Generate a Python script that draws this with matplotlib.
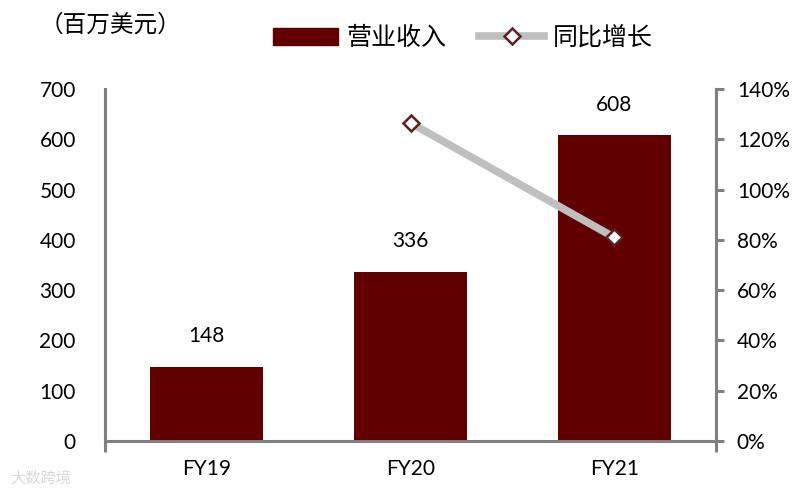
import matplotlib
matplotlib.use("Agg")
import matplotlib.pyplot as plt
from matplotlib.lines import Line2D
from matplotlib.patches import Patch

categories = ["FY19", "FY20", "FY21"]
revenue = [148, 336, 608]
growth = [None, 126.5, 81.0]
left_ticks = [0, 100, 200, 300, 400, 500, 600, 700]
right_ticks = [0, 20, 40, 60, 80, 100, 120, 140]

plt.rcParams['font.family'] = ['Lato', 'Noto Sans CJK SC', 'DejaVu Sans']
cjk = ['Noto Sans CJK SC', 'DejaVu Sans']

BAR = '#600000'
LINE = '#BFBFBF'
MEDGE = '#5C1F1F'
SPINE = '#808080'

fig = plt.figure(figsize=(8.11, 4.95), dpi=100)
ax = fig.add_axes([105/811, 1-441/495, (716-105)/811, (441-89)/495])
x = list(range(len(categories)))
ax.bar(x, revenue, width=0.555, color=BAR, zorder=2)
ax.set_xlim(-0.5, 2.5)
ax.set_ylim(0, 700)
ax.set_yticks(left_ticks)
ax.set_xticks(x)
ax.set_xticklabels(categories)
ax.tick_params(axis='y', length=0, pad=21, labelsize=15)
ax.tick_params(axis='x', length=0, pad=13, labelsize=15)
ax.set_xticks([-0.5, 2.5], minor=True)
ax.tick_params(axis='x', which='minor', length=8, width=2.2, color=SPINE)
for s in ['top', 'right']:
    ax.spines[s].set_visible(False)
for s in ['left', 'bottom']:
    ax.spines[s].set_color(SPINE)
    ax.spines[s].set_linewidth(2.2)

for xi, v in zip(x, revenue):
    ax.annotate(str(v), (xi, v), xytext=(0, 22), textcoords='offset points',
                ha='center', va='center', fontsize=15)

ax2 = ax.twinx()
ax2.set_ylim(0, 140)
ax2.set_yticks(right_ticks)
ax2.set_yticklabels([f"{t}%" for t in right_ticks])
ax2.tick_params(axis='y', length=6, width=2.2, color=SPINE, pad=9, labelsize=15)
for s in ['top', 'left', 'bottom']:
    ax2.spines[s].set_visible(False)
ax2.spines['right'].set_color(SPINE)
ax2.spines['right'].set_linewidth(2.2)

gx = [xi for xi, g in zip(x, growth) if g is not None]
gy = [g for g in growth if g is not None]
ax2.plot(gx, gy, color=LINE, lw=5.5, solid_capstyle='butt', zorder=3)
ax2.plot(gx, gy, ls='none', marker='D', markersize=8.5, markerfacecolor='white',
         markeredgecolor=MEDGE, markeredgewidth=1.8, zorder=4)

handles = [Patch(facecolor=BAR, edgecolor=BAR),
           Line2D([0], [0], color=LINE, lw=5.5, marker='D', markersize=8,
                  markerfacecolor='white', markeredgecolor=MEDGE, markeredgewidth=1.8)]
fig.legend(handles, ['营业收入', '同比增长'], loc='center', bbox_to_anchor=(463/811, 1-38/495),
           ncol=2, frameon=False, prop={'family': cjk, 'size': 18},
           handlelength=2.6, handleheight=0.7, columnspacing=1.3, handletextpad=0.35,
           borderpad=0.1)

fig.text(40/811, 1-25/495, '（百万美元）', family=cjk, fontsize=17, ha='left', va='center')
fig.text(10/811, 1-478/495, '大数跨境', family=cjk, fontsize=11, color='#D9D9D9',
         ha='left', va='center')

fig.savefig('out.png', dpi=100)
